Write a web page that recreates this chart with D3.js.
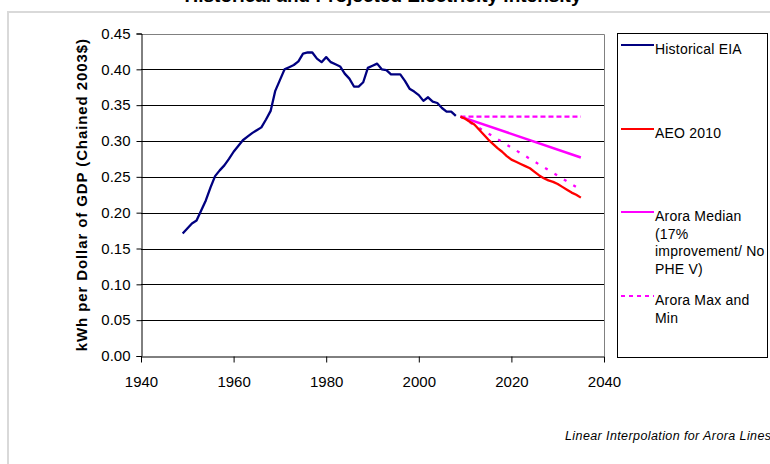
<!DOCTYPE html>
<html>
<head>
<meta charset="utf-8">
<script src="https://cdn.jsdelivr.net/npm/d3@7"></script>
<style>
  html, body { margin: 0; padding: 0; background: #fff; }
  svg { display: block; font-family: "Liberation Sans", Arial, sans-serif; }
</style>
</head>
<body>
<svg id="chart" width="770" height="464"></svg>
<script>
// Historical EIA electricity intensity, kWh per dollar of GDP (chained 2003$)
const histYears = d3.range(1949, 2009);
const histValues = [
  0.171, 0.178, 0.185, 0.189, 0.203, 0.217, 0.235, 0.251, 0.259, 0.266,
  0.275, 0.285, 0.293, 0.301, 0.306, 0.311, 0.315, 0.319, 0.330, 0.342,
  0.370, 0.385, 0.400, 0.403, 0.406, 0.411, 0.422, 0.4235, 0.4235, 0.415,
  0.410, 0.417, 0.410, 0.407, 0.404, 0.394, 0.387, 0.376, 0.376, 0.382,
  0.402, 0.405, 0.408, 0.400, 0.399, 0.393, 0.393, 0.393, 0.384, 0.373,
  0.369, 0.364, 0.356, 0.361, 0.355, 0.353, 0.346, 0.341, 0.341, 0.335
];

// AEO 2010 projection
const aeoYears = d3.range(2009, 2036);
const aeoValues = [
  0.334, 0.331, 0.327, 0.323, 0.316, 0.309, 0.302, 0.296, 0.290, 0.285,
  0.279, 0.274, 0.271, 0.268, 0.265, 0.262, 0.257, 0.252, 0.248, 0.245,
  0.243, 0.240, 0.236, 0.232, 0.228, 0.225, 0.221
];

// Arora scenarios (end points, linear interpolation between them)
const aroraYears = [2009, 2035];
const aroraMedian = [0.334, 0.277];
const aroraMax = [0.334, 0.334];
const aroraMin = [0.334, 0.232];

const yTicks = [0, 0.05, 0.10, 0.15, 0.20, 0.25, 0.30, 0.35, 0.40, 0.45];
const xTicks = [1940, 1960, 1980, 2000, 2020, 2040];

const legendItems = [
  { lines: ["Historical EIA"], color: "#000080", dash: null, y: 45 },
  { lines: ["AEO 2010"], color: "#ff0000", dash: null, y: 129 },
  { lines: ["Arora Median", "(17%", "improvement/ No", "PHE V)"], color: "#ff00ff", dash: null, y: 212 },
  { lines: ["Arora Max and", "Min"], color: "#ff00ff", dash: "4,4", y: 296 }
];

const svg = d3.select("#chart");

// Chart title (runs off the top of the frame)
svg.append("text")
  .attr("x", 383).attr("y", 1.5)
  .attr("text-anchor", "middle")
  .attr("font-weight", "bold")
  .attr("font-size", 19)
  .text("Historical and Projected Electricity Intensity");

// Outer chart frame
svg.append("rect")
  .attr("x", 8).attr("y", 12)
  .attr("width", 800).attr("height", 500)
  .attr("fill", "none")
  .attr("stroke", "#d9d9d9")
  .attr("stroke-width", 2);

const x = d3.scaleLinear().domain([1940, 2040]).range([141, 604]);
const y = d3.scaleLinear().domain([0, 0.45]).range([356, 33.5]);

// Gridlines
svg.append("g")
  .selectAll("line")
  .data(yTicks.filter(d => d > 0 && d < 0.45))
  .join("line")
  .attr("x1", x(1940)).attr("x2", x(2040))
  .attr("y1", d => Math.round(y(d)) + 0.5)
  .attr("y2", d => Math.round(y(d)) + 0.5)
  .attr("stroke", "#000")
  .attr("stroke-width", 1);

// Plot area border (top and right)
svg.append("path")
  .attr("d", `M${x(1940)},${Math.round(y(0.45)) + 0.5}H${Math.round(x(2040)) + 0.5}V${y(0)}`)
  .attr("fill", "none")
  .attr("stroke", "#808080")
  .attr("stroke-width", 1);

// Y axis
const yAxis = svg.append("g")
  .attr("transform", `translate(${Math.round(x(1940)) + 0.5},0)`)
  .call(d3.axisLeft(y).tickValues(yTicks).tickSize(5).tickPadding(6).tickFormat(d3.format(".2f")));
yAxis.select(".domain").attr("stroke", "#000");
yAxis.selectAll(".tick line").attr("stroke", "#000");
yAxis.selectAll(".tick text")
  .attr("font-family", "Liberation Sans, Arial, sans-serif")
  .attr("font-size", 15)
  .attr("fill", "#000");

// X axis
const xAxis = svg.append("g")
  .attr("transform", `translate(0,${Math.round(y(0)) + 0.5})`)
  .call(d3.axisBottom(x).tickValues(xTicks).tickSize(6).tickSizeOuter(0).tickPadding(14).tickFormat(d3.format("d")));
xAxis.select(".domain").attr("stroke", "#000");
xAxis.selectAll(".tick line").attr("stroke", "#000");
xAxis.selectAll(".tick text")
  .attr("font-family", "Liberation Sans, Arial, sans-serif")
  .attr("font-size", 15)
  .attr("fill", "#000");

// Y axis title
svg.append("text")
  .attr("transform", `translate(87,${(y(0) + y(0.45)) / 2}) rotate(-90)`)
  .attr("text-anchor", "middle")
  .attr("font-weight", "bold")
  .attr("font-size", 15)
  .attr("letter-spacing", 0.9)
  .text("kWh per Dollar of GDP (Chained 2003$)");

const line = d3.line().x(d => x(d[0])).y(d => y(d[1]));
const zip = (xs, ys) => xs.map((v, i) => [v, ys[i]]);

// Series
svg.append("path")
  .datum(zip(histYears, histValues))
  .attr("d", line).attr("fill", "none")
  .attr("stroke", "#000080").attr("stroke-width", 2.3)
  .attr("stroke-linejoin", "round");

svg.append("path")
  .datum(zip(aroraYears, aroraMax))
  .attr("d", line).attr("fill", "none")
  .attr("stroke", "#ff00ff").attr("stroke-width", 2.3)
  .attr("stroke-dasharray", "5,3");

svg.append("path")
  .datum(zip(aroraYears, aroraMin))
  .attr("d", line).attr("fill", "none")
  .attr("stroke", "#ff00ff").attr("stroke-width", 2.3)
  .attr("stroke-dasharray", "3,8");

svg.append("path")
  .datum(zip(aroraYears, aroraMedian))
  .attr("d", line).attr("fill", "none")
  .attr("stroke", "#ff00ff").attr("stroke-width", 2.5);

svg.append("path")
  .datum(zip(aeoYears, aeoValues))
  .attr("d", line).attr("fill", "none")
  .attr("stroke", "#ff0000").attr("stroke-width", 2.3)
  .attr("stroke-linejoin", "round");

// Legend
const legend = svg.append("g");
legend.append("rect")
  .attr("x", 617.5).attr("y", 33.5)
  .attr("width", 150).attr("height", 324)
  .attr("fill", "#fff")
  .attr("stroke", "#000")
  .attr("stroke-width", 1);

legendItems.forEach(item => {
  legend.append("line")
    .attr("x1", 621).attr("x2", 654)
    .attr("y1", item.y).attr("y2", item.y)
    .attr("stroke", item.color)
    .attr("stroke-width", 2)
    .attr("stroke-dasharray", item.dash);
  const t = legend.append("text")
    .attr("x", 655)
    .attr("y", item.y + 9)
    .attr("font-size", 14)
    .attr("letter-spacing", 0.2);
  item.lines.forEach((s, i) => {
    t.append("tspan").attr("x", 655).attr("dy", i === 0 ? 0 : 17.5).text(s);
  });
});

// Footnote
svg.append("text")
  .attr("x", 565).attr("y", 440)
  .attr("font-style", "italic")
  .attr("font-size", 12.5)
  .attr("letter-spacing", 0.4)
  .text("Linear Interpolation for Arora Lines");
</script>
</body>
</html>
